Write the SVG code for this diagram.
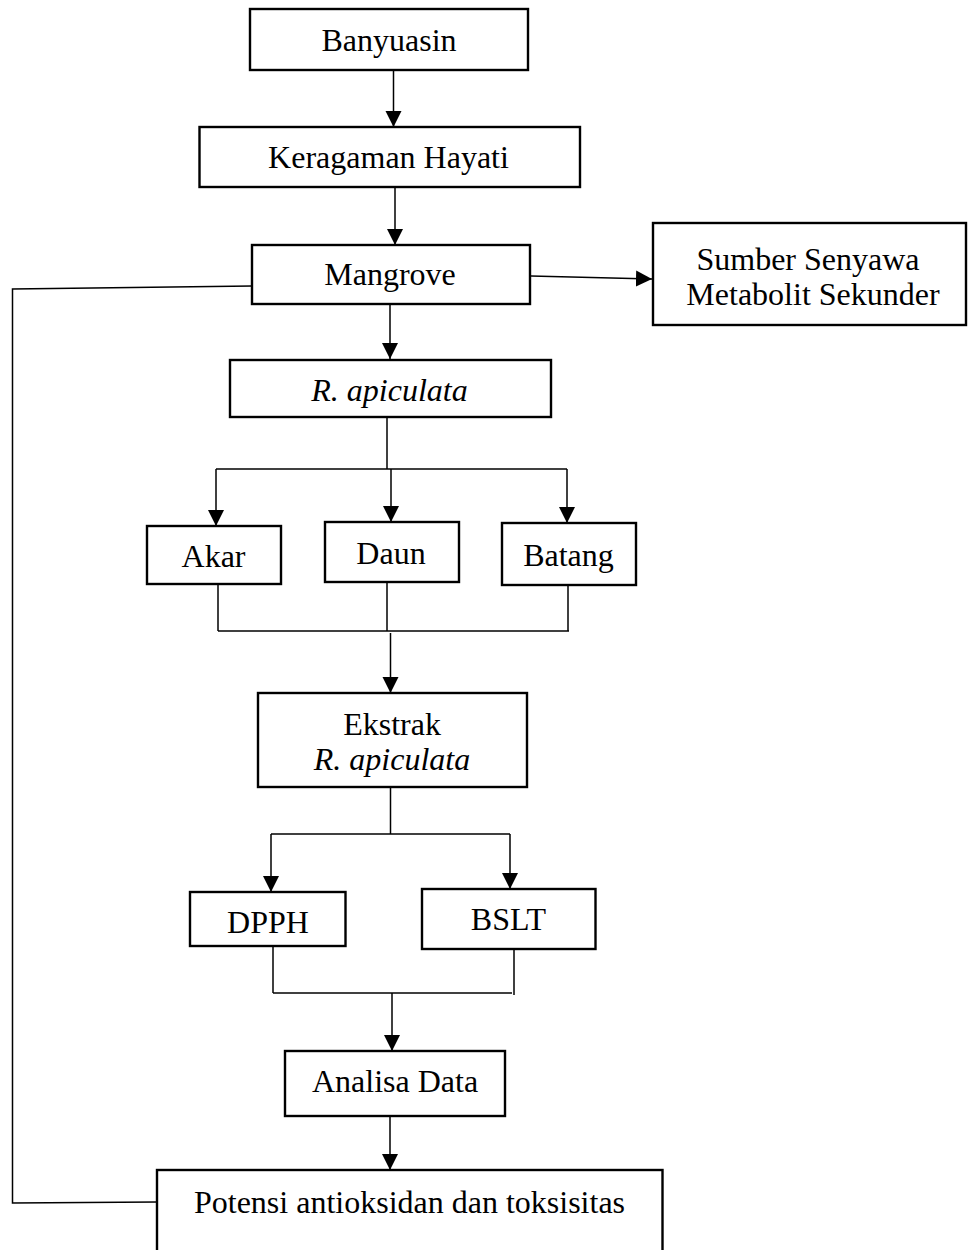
<svg xmlns="http://www.w3.org/2000/svg" width="968" height="1250" viewBox="0 0 968 1250">
<style>
.box{fill:#fff;stroke:#000;stroke-width:2.4}
.t{font-family:"Liberation Serif","Times New Roman",serif;font-size:32px;fill:#000;text-anchor:middle}
.i{font-style:italic}
.c{fill:none;stroke:#000;stroke-width:1.5}
.a{fill:none;stroke:#000;stroke-width:1.5;marker-end:url(#ah)}
</style>
<defs>
<marker id="ah" markerUnits="userSpaceOnUse" markerWidth="18" markerHeight="18" viewBox="0 0 18 18" refX="16" refY="9" orient="auto">
<path d="M0,1 L16,9 L0,17 Z" fill="#000"/>
</marker>
</defs>
<rect width="968" height="1250" fill="#fff"/>
<g id="connectors">
<line class="a" x1="393.5" y1="71" x2="393.5" y2="127"/>
<line class="a" x1="395" y1="188" x2="395" y2="245"/>
<line class="a" x1="531" y1="276" x2="652" y2="279"/>
<polyline class="c" points="252,286 12.5,289 12.5,1203 157,1202"/>
<line class="a" x1="390" y1="305" x2="390" y2="359"/>
<line class="c" x1="387" y1="418" x2="387" y2="469"/>
<line class="c" x1="216" y1="469" x2="567" y2="469"/>
<line class="a" x1="216" y1="469" x2="216" y2="526"/>
<line class="a" x1="391" y1="469" x2="391" y2="522"/>
<line class="a" x1="567" y1="469" x2="567" y2="523"/>
<line class="c" x1="218" y1="585" x2="218" y2="631"/>
<line class="c" x1="387" y1="583" x2="387" y2="631"/>
<line class="c" x1="568" y1="586" x2="568" y2="631"/>
<line class="c" x1="218" y1="631" x2="569" y2="631"/>
<line class="a" x1="390.5" y1="633" x2="390.5" y2="693"/>
<line class="c" x1="390.5" y1="788" x2="390.5" y2="834"/>
<line class="c" x1="271" y1="834" x2="510" y2="834"/>
<line class="a" x1="271" y1="834" x2="271" y2="892"/>
<line class="a" x1="510" y1="834" x2="510" y2="889"/>
<line class="c" x1="273" y1="947" x2="273" y2="993"/>
<line class="c" x1="514" y1="946" x2="514" y2="995"/>
<line class="c" x1="273" y1="993" x2="512" y2="993"/>
<line class="a" x1="392" y1="993" x2="392" y2="1051"/>
<line class="a" x1="390" y1="1117" x2="390" y2="1170"/>
</g>
<g id="banyuasin"><rect class="box" x="250" y="9" width="278" height="61"/><text class="t" x="389" y="51">Banyuasin</text></g>
<g id="keragaman"><rect class="box" x="199.5" y="127" width="380.5" height="60"/><text class="t" x="388.5" y="168">Keragaman Hayati</text></g>
<g id="mangrove"><rect class="box" x="252" y="245" width="278" height="59"/><text class="t" x="390" y="285">Mangrove</text></g>
<g id="sumber"><rect class="box" x="653" y="223" width="313" height="102"/><text class="t" x="808" y="270">Sumber Senyawa</text><text class="t" x="813" y="305">Metabolit Sekunder</text></g>
<g id="rapiculata"><rect class="box" x="230" y="360" width="321" height="57"/><text class="t i" x="389.5" y="401">R. apiculata</text></g>
<g id="akar"><rect class="box" x="147" y="526" width="134" height="58"/><text class="t" x="213.5" y="567">Akar</text></g>
<g id="daun"><rect class="box" x="325" y="522" width="134" height="60"/><text class="t" x="391" y="564">Daun</text></g>
<g id="batang"><rect class="box" x="502" y="523" width="134" height="62"/><text class="t" x="568.5" y="566">Batang</text></g>
<g id="ekstrak"><rect class="box" x="258" y="693" width="269" height="94"/><text class="t" x="392" y="735">Ekstrak</text><text class="t i" x="392" y="770">R. apiculata</text></g>
<g id="dpph"><rect class="box" x="190" y="892" width="155.5" height="54"/><text class="t" x="268" y="933">DPPH</text></g>
<g id="bslt"><rect class="box" x="422" y="889" width="173.5" height="60"/><text class="t" x="508.5" y="930">BSLT</text></g>
<g id="analisa"><rect class="box" x="285" y="1051" width="220" height="65"/><text class="t" x="395" y="1092">Analisa Data</text></g>
<g id="potensi"><rect class="box" x="157" y="1170" width="505.5" height="100"/><text class="t" x="409.5" y="1213">Potensi antioksidan dan toksisitas</text></g>
</svg>
